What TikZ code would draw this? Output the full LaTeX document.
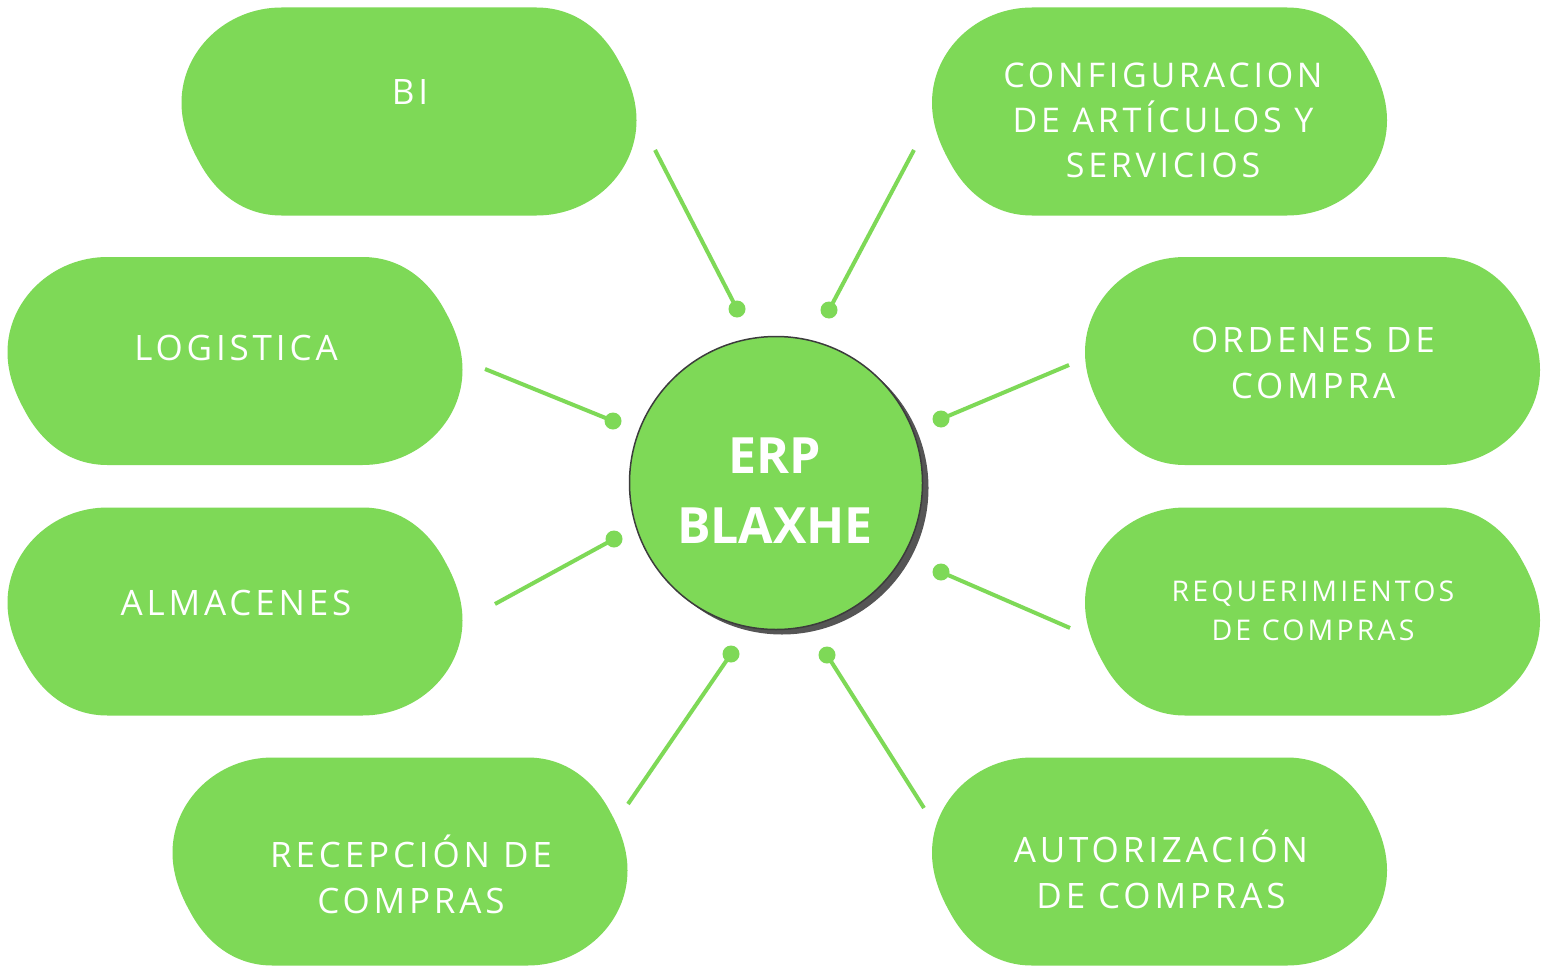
\documentclass[tikz,border=0pt]{standalone}
\usepackage{fontspec}
\setmainfont{Open Sans}
\newfontfamily\tagfont[LetterSpace=11]{Open Sans}
\usetikzlibrary{shadows}

\definecolor{leafgreen}{HTML}{7ED957}
\definecolor{rimgray}{HTML}{3C3C3C}
\definecolor{shadegray}{HTML}{555555}

\tikzset{
    leaf/.style={minimum width=455pt, minimum height=208pt, inner sep=0pt, outer sep=0pt,
        path picture={\fill[leafgreen]
            (-127.5,-104) -- (127.5,-104) .. controls (167.5,-104) and (194.5,-79) .. (209.5,-51)
            .. controls (222.5,-28) and (227.5,-9) .. (227.5,9)
            .. controls (227.5,61) and (182.5,104) .. (127.5,104) -- (-127.5,104)
            .. controls (-167.5,104) and (-194.5,79) .. (-209.5,51)
            .. controls (-222.5,28) and (-227.5,9) .. (-227.5,-9)
            .. controls (-227.5,-61) and (-182.5,-104) .. (-127.5,-104) -- cycle;}},
    tag/.style={text=white, font=\tagfont\fontsize{35}{46}\selectfont, align=center, anchor=base, inner sep=0pt},
    hub/.style={circle, minimum size=293pt, fill=leafgreen, draw=rimgray, line width=1.5pt,
        drop shadow={shadow xshift=6pt, shadow yshift=-5pt, fill=shadegray, opacity=1}},
    link/.style={leafgreen, line width=4pt},
    dot/.style={circle, fill=leafgreen, inner sep=0pt, minimum size=17pt}
}

\begin{document}
\begin{tikzpicture}[x=1pt, y=-1pt]
    \fill[white] (0,0) rectangle (1552,966);
    \useasboundingbox (0,0) rectangle (1552,966);

    % modules
    \node[leaf] (bi) at (409,111.5) {};
    \node[leaf] (cfg) at (1159.5,111.5) {};
    \node[leaf] (log) at (235,361) {};
    \node[leaf] (ord) at (1312.5,361) {};
    \node[leaf] (alm) at (235,611.5) {};
    \node[leaf] (req) at (1312.5,611.5) {};
    \node[leaf] (rec) at (400,861.5) {};
    \node[leaf] (aut) at (1159.5,861.5) {};

    % labels (anchored on the last baseline)
    \node[tag] (bi-txt) at (410,104) {BI};
    \node[tag, font=\tagfont\fontsize{34}{45}\selectfont] (cfg-txt) at (1163,177) {CONFIGURACION\\DE ARTÍCULOS Y\\SERVICIOS};
    \node[tag] (log-txt) at (236,360) {LOGISTICA};
    \node[tag] (ord-txt) at (1313,398) {ORDENES DE\\COMPRA};
    \node[tag] (alm-txt) at (236,615) {ALMACENES};
    \node[tag, font=\tagfont\fontsize{28.5}{39}\selectfont] (req-txt) at (1313,640) {REQUERIMIENTOS\\DE COMPRAS};
    \node[tag] (rec-txt) at (411,913) {RECEPCIÓN DE\\COMPRAS};
    \node[tag] (aut-txt) at (1161,908) {AUTORIZACIÓN\\DE COMPRAS};

    % centre
    \node[hub] (erp) at (776,483) {};
    \node[text=white, font=\bfseries\fontsize{50}{70}\selectfont, align=center, anchor=base, inner sep=0pt] (erp-txt) at (775,543) {ERP\\BLAXHE};

    % connectors
    \coordinate (bi-end) at (655,150);
    \coordinate (cfg-end) at (914,150);
    \coordinate (log-end) at (485,369);
    \coordinate (ord-end) at (1069,365);
    \coordinate (alm-end) at (495,604);
    \coordinate (req-end) at (1070,628);
    \coordinate (rec-end) at (628,804);
    \coordinate (aut-end) at (924,808);

    \node[dot] (bi-dot) at (737,309) {};
    \node[dot] (cfg-dot) at (829,310) {};
    \node[dot] (log-dot) at (613,421) {};
    \node[dot] (ord-dot) at (941,419) {};
    \node[dot] (alm-dot) at (614,539) {};
    \node[dot] (req-dot) at (941,572) {};
    \node[dot] (rec-dot) at (731,654) {};
    \node[dot] (aut-dot) at (827,655) {};

    \foreach \m in {bi,cfg,log,ord,alm,req,rec,aut}
        \draw[link] (\m-end) -- (\m-dot.center);
\end{tikzpicture}
\end{document}
